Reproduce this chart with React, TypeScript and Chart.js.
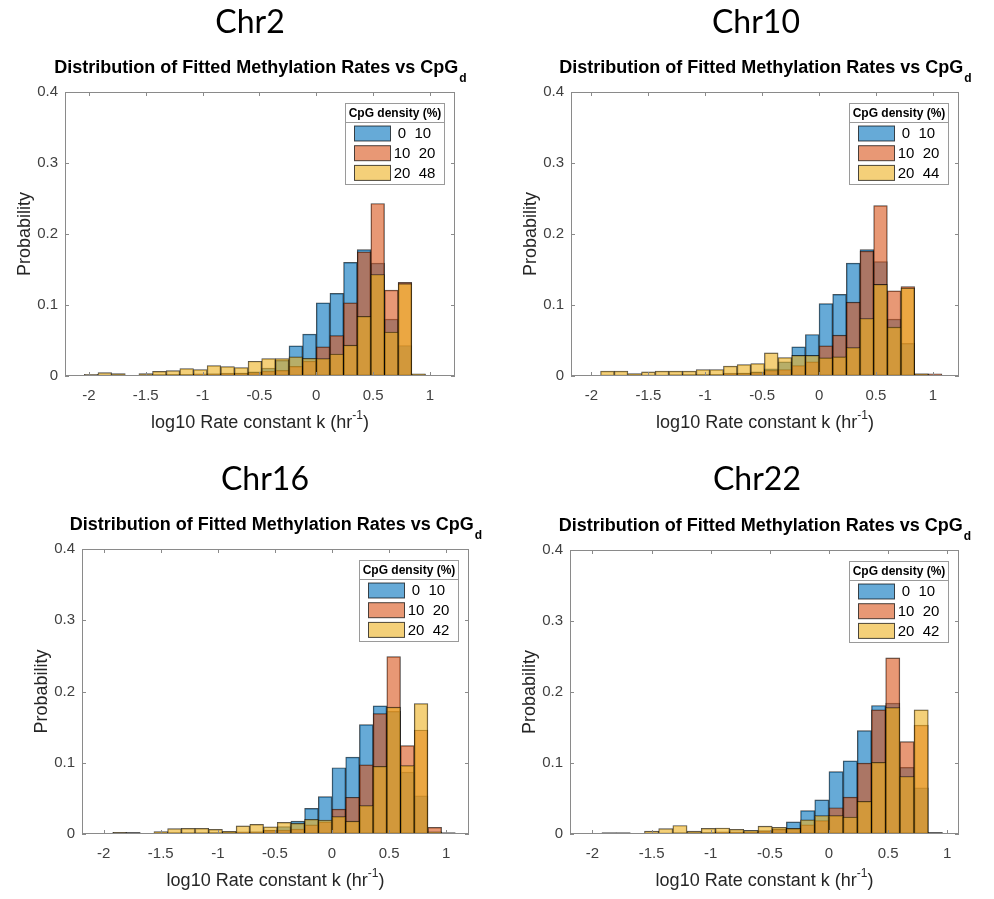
import React, { useEffect, useRef } from 'react';
import { Chart, registerables } from 'chart.js';

Chart.register(...registerables);

// ---------- data ----------
const BIN_CENTERS = [
  -1.98, -1.86, -1.74, -1.62, -1.5, -1.38, -1.26, -1.14, -1.02, -0.9, -0.78, -0.66, -0.54,
  -0.42, -0.3, -0.18, -0.06, 0.06, 0.18, 0.3, 0.42, 0.54, 0.66, 0.78, 0.9, 1.02,
];
const X_TICKS = [-2, -1.5, -1, -0.5, 0, 0.5, 1];
const X_TICK_LABELS = ['-2', '-1.5', '-1', '-0.5', '0', '0.5', '1'];
const Y_TICKS = [0, 0.1, 0.2, 0.3, 0.4];
const Y_TICK_LABELS = ['0', '0.1', '0.2', '0.3', '0.4'];

const CHR2_LOW = [0.0005, 0.001, 0.001, 0.0005, 0.001, 0.0015, 0.002, 0.002, 0.002, 0.003, 0.003, 0.004, 0.006, 0.011, 0.022, 0.0425, 0.059, 0.103, 0.1165, 0.16, 0.178, 0.159, 0.08, 0.043, 0.001, null];
const CHR2_MID = [0.001, 0.001, 0.001, 0.0005, 0.001, 0.002, 0.002, 0.002, 0.003, 0.003, 0.004, 0.004, 0.005, 0.007, 0.008, 0.0137, 0.021, 0.041, 0.057, 0.103, 0.175, 0.243, 0.121, 0.132, 0.002, null];
const CHR2_HIGH = [0.0024, 0.0047, 0.0033, 0.001, 0.0033, 0.0066, 0.0075, 0.0104, 0.009, 0.0146, 0.0132, 0.0118, 0.0208, 0.0245, 0.0245, 0.027, 0.025, 0.0245, 0.031, 0.0434, 0.084, 0.143, 0.062, 0.13, 0.003, null];
const CHR2_LEGEND = ['0  10', '10  20', '20  48'];

const CHR10_LOW = [0.0005, 0.001, 0.001, 0.0005, 0.001, 0.001, 0.0015, 0.0015, 0.002, 0.002, 0.003, 0.004, 0.006, 0.01, 0.02, 0.041, 0.0585, 0.102, 0.115, 0.159, 0.178, 0.161, 0.08, 0.046, 0.001, null];
const CHR10_MID = [0.0005, 0.001, 0.001, 0.0005, 0.001, 0.001, 0.0015, 0.002, 0.002, 0.002, 0.004, 0.004, 0.005, 0.008, 0.009, 0.0146, 0.02, 0.0425, 0.0575, 0.104, 0.176, 0.24, 0.12, 0.126, 0.003, 0.003];
const CHR10_HIGH = [0.001, 0.007, 0.007, 0.0035, 0.0057, 0.007, 0.007, 0.007, 0.009, 0.009, 0.014, 0.016, 0.0175, 0.0325, 0.026, 0.029, 0.029, 0.0255, 0.027, 0.04, 0.081, 0.129, 0.069, 0.124, 0.003, null];
const CHR10_LEGEND = ['0  10', '10  20', '20  44'];

const CHR16_LOW = [0.0005, 0.001, 0.001, 0.0005, 0.001, 0.001, 0.001, 0.001, 0.0015, 0.002, 0.002, 0.003, 0.005, 0.0103, 0.018, 0.036, 0.0526, 0.093, 0.108, 0.1535, 0.18, 0.172, 0.087, 0.0535, 0.001, null];
const CHR16_MID = [0.0005, 0.002, 0.002, 0.0005, 0.001, 0.002, 0.002, 0.002, 0.002, 0.002, 0.003, 0.003, 0.0056, 0.0056, 0.007, 0.0127, 0.017, 0.035, 0.0516, 0.097, 0.169, 0.249, 0.124, 0.146, 0.0094, 0.002];
const CHR16_HIGH = [0.001, 0.0023, 0.002, 0.0005, 0.0033, 0.0075, 0.008, 0.008, 0.0066, 0.0038, 0.0113, 0.0136, 0.01, 0.0164, 0.015, 0.0207, 0.0197, 0.0244, 0.018, 0.04, 0.095, 0.178, 0.096, 0.183, 0.003, null];
const CHR16_LEGEND = ['0  10', '10  20', '20  42'];

const CHR22_LOW = [0.0005, 0.0005, 0.0005, 0.0003, 0.001, 0.001, 0.001, 0.0015, 0.002, 0.002, 0.002, 0.003, 0.004, 0.007, 0.017, 0.033, 0.048, 0.088, 0.103, 0.1455, 0.181, 0.1845, 0.094, 0.065, 0.001, null];
const CHR22_MID = [0.0005, 0.001, 0.001, 0.0003, 0.001, 0.001, 0.002, 0.002, 0.002, 0.003, 0.003, 0.003, 0.0047, 0.007, 0.0075, 0.013, 0.019, 0.037, 0.052, 0.1, 0.175, 0.248, 0.13, 0.1535, 0.002, null];
const CHR22_HIGH = [0.001, 0.002, 0.002, 0.0005, 0.004, 0.0075, 0.012, 0.004, 0.008, 0.0085, 0.0066, 0.005, 0.011, 0.0094, 0.008, 0.02, 0.026, 0.026, 0.024, 0.046, 0.101, 0.178, 0.081, 0.175, 0.002, null];
const CHR22_LEGEND = ['0  10', '10  20', '20  42'];

const LEGEND_TITLE = 'CpG density (%)';
const CHART_TITLE = 'Distribution of Fitted Methylation Rates vs CpG';
const CHART_TITLE_SUB = 'd';
const X_LABEL = 'log10 Rate constant k (hr';
const X_LABEL_SUP = '-1';
const Y_LABEL = 'Probability';

// ---------- styles ----------
const COLORS = ['rgba(0,114,189,0.6)', 'rgba(217,83,25,0.6)', 'rgba(237,177,32,0.6)'];
const EDGE = 'rgba(0,0,0,0.7)';
const FONT = "'Liberation Sans', Arial, Helvetica, sans-serif";
const AXIS_COLOR = '#8a8a8a';
const TICK_TEXT = '#404040';

const PANELS = [
  { name: 'Chr2', low: CHR2_LOW, mid: CHR2_MID, high: CHR2_HIGH, legend: CHR2_LEGEND, xMin: -2.21, xMax: 1.22,
    canvas: { x: 0, y: 0, w: 497, h: 450 }, area: { l: 65, t: 92, r: 455, b: 376 }, head: { cx: 250, top: 5 } },
  { name: 'Chr10', low: CHR10_LOW, mid: CHR10_MID, high: CHR10_HIGH, legend: CHR10_LEGEND, xMin: -2.18, xMax: 1.23,
    canvas: { x: 497, y: 0, w: 497, h: 450 }, area: { l: 571, t: 92, r: 959, b: 376 }, head: { cx: 756, top: 5 } },
  { name: 'Chr16', low: CHR16_LOW, mid: CHR16_MID, high: CHR16_HIGH, legend: CHR16_LEGEND, xMin: -2.19, xMax: 1.2,
    canvas: { x: 0, y: 450, w: 497, h: 449 }, area: { l: 82, t: 549, r: 469, b: 834 }, head: { cx: 265, top: 462 } },
  { name: 'Chr22', low: CHR22_LOW, mid: CHR22_MID, high: CHR22_HIGH, legend: CHR22_LEGEND, xMin: -2.19, xMax: 1.1,
    canvas: { x: 497, y: 450, w: 497, h: 449 }, area: { l: 570, t: 550, r: 959, b: 834 }, head: { cx: 757, top: 462 } },
];

const YW = 50;
const XH = 40;

function makeDataset(label: string, values: (number | null)[], color: string, order: number) {
  return {
    label,
    data: BIN_CENTERS.map((x, i) => ({ x, y: values[i] ?? null })),
    backgroundColor: color,
    borderColor: EDGE,
    borderWidth: 0.8,
    borderSkipped: false,
    grouped: false,
    barPercentage: 1,
    categoryPercentage: 1,
    order,
  };
}

function Panel({ p }: { p: any }) {
  const ref = useRef<HTMLCanvasElement>(null);
  useEffect(() => {
    const c = p.canvas;
    const a = p.area;
    const padding = {
      left: a.l - c.x - YW,
      top: a.t - c.y,
      right: c.x + c.w - a.r,
      bottom: c.y + c.h - a.b - XH,
    };
    const frame = {
      id: 'frame' + p.name,
      afterDatasetsDraw(chart: any) {
        const ctx = chart.ctx;
        const ca = chart.chartArea;
        const xs = chart.scales.x;
        const ys = chart.scales.y;
        ctx.save();
        ctx.strokeStyle = AXIS_COLOR;
        ctx.lineWidth = 1;
        ctx.strokeRect(ca.left + 0.5, ca.top + 0.5, ca.right - ca.left - 1, ca.bottom - ca.top - 1);
        ctx.beginPath();
        const TL = 4;
        X_TICKS.forEach((v) => {
          const px = Math.round(xs.getPixelForValue(v)) + 0.5;
          ctx.moveTo(px, ca.bottom);
          ctx.lineTo(px, ca.bottom - TL);
          ctx.moveTo(px, ca.top);
          ctx.lineTo(px, ca.top + TL);
        });
        Y_TICKS.forEach((v) => {
          const py = Math.round(ys.getPixelForValue(v)) + 0.5;
          ctx.moveTo(ca.left, py);
          ctx.lineTo(ca.left + TL, py);
          ctx.moveTo(ca.right, py);
          ctx.lineTo(ca.right - TL, py);
        });
        ctx.stroke();

        const cx = (ca.left + ca.right) / 2;
        ctx.fillStyle = '#000';
        ctx.textBaseline = 'alphabetic';
        ctx.textAlign = 'left';
        ctx.font = `bold 18px ${FONT}`;
        const w1 = ctx.measureText(CHART_TITLE).width;
        ctx.font = `bold 12px ${FONT}`;
        const w2 = ctx.measureText(CHART_TITLE_SUB).width;
        const tx = cx - (w1 + w2) / 2;
        const tb = ca.top - 19;
        ctx.font = `bold 18px ${FONT}`;
        ctx.fillText(CHART_TITLE, tx, tb);
        ctx.font = `bold 12px ${FONT}`;
        ctx.fillText(CHART_TITLE_SUB, tx + w1 + 1, tb + 9);

        ctx.fillStyle = '#262626';
        ctx.font = `18px ${FONT}`;
        const m1 = ctx.measureText(X_LABEL).width;
        const m3 = ctx.measureText(')').width;
        ctx.font = `12px ${FONT}`;
        const m2 = ctx.measureText(X_LABEL_SUP).width;
        const lx = cx - (m1 + m2 + m3) / 2;
        const lb = ca.bottom + 52;
        ctx.font = `18px ${FONT}`;
        ctx.fillText(X_LABEL, lx, lb);
        ctx.fillText(')', lx + m1 + m2, lb);
        ctx.font = `12px ${FONT}`;
        ctx.fillText(X_LABEL_SUP, lx + m1, lb - 9);

        ctx.save();
        ctx.translate(ca.left - 35, (ca.top + ca.bottom) / 2);
        ctx.rotate(-Math.PI / 2);
        ctx.textAlign = 'center';
        ctx.font = `18px ${FONT}`;
        ctx.fillText(Y_LABEL, 0, 0);
        ctx.restore();

        const bw = 99;
        const bh = 81;
        const bx = Math.round(ca.right - 11 - bw) + 0.5;
        const by = Math.round(ca.top + 11) + 0.5;
        ctx.fillStyle = '#fff';
        ctx.fillRect(bx, by, bw, bh);
        ctx.strokeStyle = '#9a9a9a';
        ctx.strokeRect(bx, by, bw, bh);
        ctx.beginPath();
        ctx.moveTo(bx, by + 19);
        ctx.lineTo(bx + bw, by + 19);
        ctx.stroke();
        ctx.fillStyle = '#000';
        ctx.textAlign = 'center';
        ctx.textBaseline = 'middle';
        ctx.font = `bold 12px ${FONT}`;
        ctx.fillText(LEGEND_TITLE, bx + bw / 2, by + 10);
        p.legend.forEach((lab: string, i: number) => {
          const sy = by + 22.5 + 19.7 * i;
          ctx.fillStyle = '#fff';
          ctx.fillRect(bx + 9, sy, 36, 15);
          ctx.fillStyle = COLORS[i];
          ctx.fillRect(bx + 9, sy, 36, 15);
          ctx.strokeStyle = EDGE;
          ctx.lineWidth = 1;
          ctx.strokeRect(bx + 9, sy, 36, 15);
          ctx.fillStyle = '#000';
          ctx.font = `15px ${FONT}`;
          ctx.fillText(lab, bx + 69, sy + 8);
        });
        ctx.restore();
      },
    };

    const tickFont = { family: FONT, size: 15 };
    const chart = new Chart(ref.current as HTMLCanvasElement, {
      type: 'bar',
      data: {
        datasets: [
          makeDataset(p.legend[0], p.low, COLORS[0], 3),
          makeDataset(p.legend[1], p.mid, COLORS[1], 2),
          makeDataset(p.legend[2], p.high, COLORS[2], 1),
        ] as any,
      },
      options: {
        responsive: false,
        animation: false,
        devicePixelRatio: 1,
        layout: { padding },
        plugins: {
          legend: { display: false },
          tooltip: { enabled: false },
          title: { display: false },
        },
        scales: {
          x: {
            type: 'linear',
            min: p.xMin,
            max: p.xMax,
            offset: false,
            grid: { display: false, drawTicks: false },
            border: { display: false },
            ticks: {
              font: tickFont, color: TICK_TEXT, padding: 11, maxRotation: 0, autoSkip: false, includeBounds: false,
              callback: (v: number) => {
                const k = X_TICKS.findIndex((t) => Math.abs(t - v) < 1e-9);
                return k >= 0 ? X_TICK_LABELS[k] : '';
              },
            },
            afterBuildTicks: (s: any) => { s.ticks = X_TICKS.map((v) => ({ value: v })); },
            afterFit: (s: any) => { s.height = XH; },
          },
          y: {
            type: 'linear',
            min: 0,
            max: 0.4,
            grid: { display: false, drawTicks: false },
            border: { display: false },
            ticks: {
              font: tickFont, color: TICK_TEXT, padding: 7, includeBounds: false,
              callback: (v: number) => {
                const k = Y_TICKS.findIndex((t) => Math.abs(t - v) < 1e-9);
                return k >= 0 ? Y_TICK_LABELS[k] : '';
              },
            },
            afterBuildTicks: (s: any) => { s.ticks = Y_TICKS.map((v) => ({ value: v })); },
            afterFit: (s: any) => { s.width = YW; },
          },
        },
      } as any,
      plugins: [frame],
    });
    return () => chart.destroy();
  }, [p]);
  const c = p.canvas;
  return (
    <canvas
      ref={ref}
      width={c.w}
      height={c.h}
      style={{ position: 'absolute', left: c.x, top: c.y, width: c.w, height: c.h }}
    />
  );
}

export default function App() {
  return (
    <div style={{ position: 'absolute', left: 0, top: 0, width: 994, height: 899, background: '#fff', overflow: 'hidden' }}>
      {PANELS.map((p) => (
        <Panel key={p.name} p={p} />
      ))}
      {PANELS.map((p) => (
        <div
          key={'h' + p.name}
          style={{
            position: 'absolute',
            left: p.head.cx - 100,
            top: p.head.top,
            width: 200,
            textAlign: 'center',
            fontFamily: "Lato, 'Open Sans', sans-serif",
            fontSize: 32,
            lineHeight: '32px',
            color: '#000',
          }}
        >
          {p.name}
        </div>
      ))}
    </div>
  );
}
